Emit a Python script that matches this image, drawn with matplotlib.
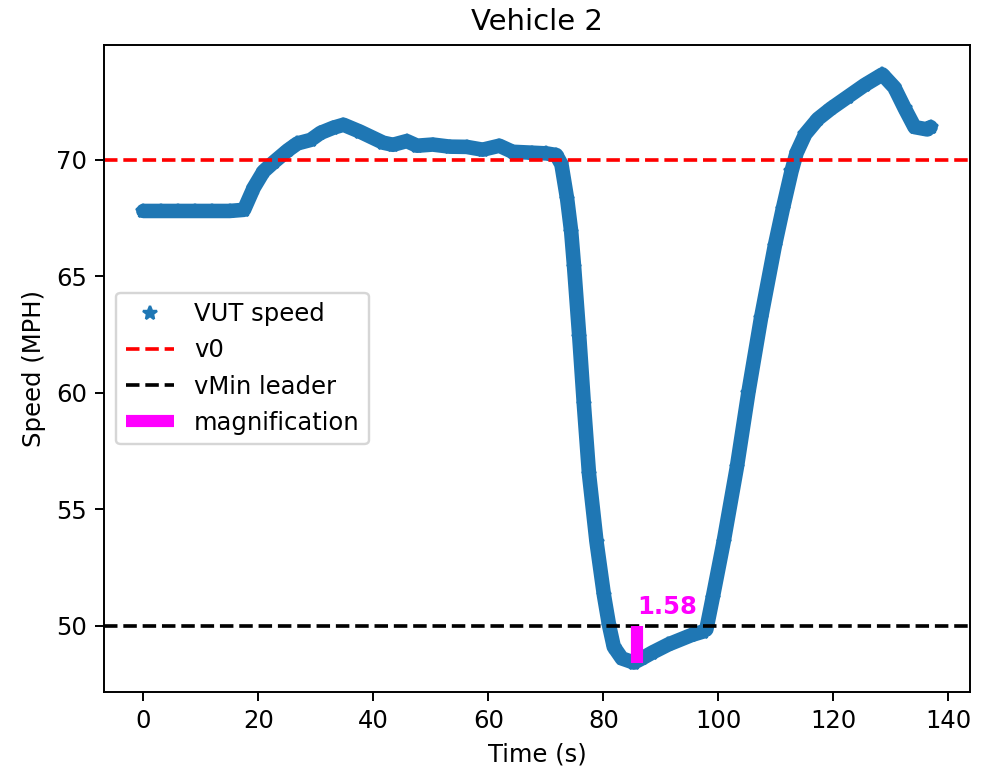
import matplotlib
matplotlib.use("Agg")
import matplotlib.pyplot as plt

# Read-off data (time in s, speed in MPH)
time_s = [0, 3, 6, 9, 12, 15, 17.5, 19.2, 20.9, 22.7, 25.1, 26.8, 29.1, 30.8, 33.0,
          34.8, 37.7, 41.7, 43.4, 45.8, 47.6, 50.3, 53.3, 56.2, 59.0, 61.9, 64.2,
          67.6, 70.1, 71.8, 72.7, 73.7, 74.4, 74.9, 75.8, 76.6, 77.5, 78.8, 80.1,
          81.0, 81.8, 83.2, 85.3, 86.7, 88.5, 91.3, 95.3, 97.3, 97.9, 99.0, 100.9,
          103.2, 105.2, 107.4, 109.8, 111.2, 112.7, 113.6, 115.1, 117.3, 119.6,
          122.5, 125.4, 128.5, 130.6, 132.4, 134.1, 136.3, 136.9]
speed_mph = [67.8, 67.8, 67.8, 67.8, 67.8, 67.8, 67.85, 68.8, 69.5, 69.9, 70.4, 70.7,
             70.85, 71.15, 71.37, 71.5, 71.2, 70.73, 70.64, 70.8, 70.6, 70.65, 70.56,
             70.55, 70.43, 70.6, 70.34, 70.3, 70.27, 70.2, 69.8, 68.3, 66.9, 65.4,
             62.4, 59.5, 56.5, 53.6, 51.3, 50.0, 49.1, 48.6, 48.42, 48.6, 48.85, 49.2,
             49.6, 49.75, 49.85, 51.2, 53.6, 56.8, 60.0, 63.2, 66.3, 67.9, 69.5, 70.3,
             71.1, 71.75, 72.2, 72.7, 73.2, 73.66, 73.1, 72.2, 71.4, 71.3, 71.4]

v0 = 70
v_min_leader = 50
min_speed = 48.42
mag_time = 85.8
magnification = v_min_leader - min_speed

fig = plt.figure(figsize=(981 / 175, 770 / 175), dpi=175)
ax = fig.add_axes([104 / 981, 1 - 692 / 770, 866 / 981, 647 / 770])

# connector through the read-off points (matches the dense band of markers)
ax.plot(time_s, speed_mph, '-', color='C0', lw=6.0, solid_capstyle='round',
        solid_joinstyle='round', label='_nolegend_')
ax.plot(time_s, speed_mph, '*', color='C0', label='VUT speed')
ax.axhline(v0, color='r', ls='--', label='v0')
ax.axhline(v_min_leader, color='k', ls='--', label='vMin leader')
ax.vlines(mag_time, min_speed, v_min_leader, color='magenta', lw=5,
          label='magnification')
ax.text(mag_time, v_min_leader + 0.3, f"{magnification:.2f}", color='magenta',
        fontweight='bold', ha='left', va='bottom')

ax.set_title('Vehicle 2')
ax.set_xlabel('Time (s)')
ax.set_ylabel('Speed (MPH)')
ax.legend(loc='center left')

fig.savefig('out.png', dpi=175)
